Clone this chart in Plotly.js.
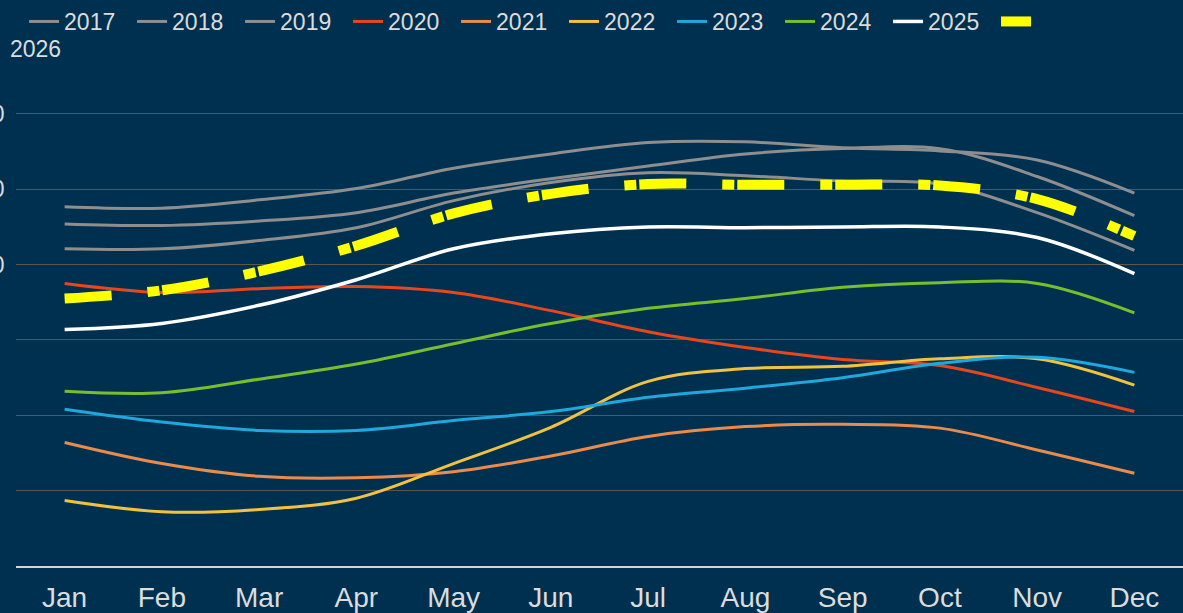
<!DOCTYPE html>
<html>
<head>
<meta charset="utf-8">
<script src="https://cdn.plot.ly/plotly-3.0.1.min.js"></script>
<style>
  html, body { margin: 0; padding: 0; background: #00304f; }
  #chart { width: 1183px; height: 613px; }
</style>
</head>
<body>
<div id="chart"></div>
<script>
// ---- data ----
const months = ['Jan','Feb','Mar','Apr','May','Jun','Jul','Aug','Sep','Oct','Nov','Dec'];
const years = ['2017','2018','2019','2020','2021','2022','2023','2024','2025','2026'];

const v2017 = [1077, 1075, 1086, 1101, 1128, 1147, 1162, 1163, 1155, 1151, 1139, 1095];
const v2018 = [1054, 1052, 1058, 1069, 1095, 1114, 1131, 1147, 1154, 1154, 1117, 1065];
const v2019 = [1021, 1021, 1032, 1049, 1085, 1109, 1122, 1118, 1111, 1107, 1069, 1019];
const v2020 = [975, 963, 968, 971, 963, 939, 911, 890, 874, 866, 837, 805];
const v2021 = [764, 736, 719, 717, 725, 746, 772, 785, 788, 783, 754, 723];
const v2022 = [687, 672, 675, 690, 736, 784, 845, 862, 865, 875, 875, 840];
const v2023 = [808, 791, 780, 780, 793, 805, 824, 836, 850, 869, 877, 857];
const v2024 = [832, 830, 848, 868, 895, 922, 942, 955, 970, 976, 975, 936];
const v2025 = [914, 922, 946, 980, 1021, 1041, 1050, 1049, 1050, 1050, 1036, 988];
const v2026 = [955, 966, 991, 1025, 1068, 1094, 1107, 1106, 1106, 1105, 1087, 1038];

// gridline values; only the three longest labels peek in at the left edge in the reference
const yTickVals = [700, 800, 900, 1000, 1100, 1200];
const yLabelVals = [1000, 1100, 1200];
const yLabelText = ['1,000', '1,100', '1,200'];

// ---- styles ----
const series = [v2017, v2018, v2019, v2020, v2021, v2022, v2023, v2024, v2025, v2026];
const lineColors = ['#8e8e8e', '#8e8e8e', '#8e8e8e', '#e8461c', '#e98b4c', '#f0c240', '#1ea8dc', '#78be2c', '#ffffff', '#ffff00'];
const lineWidths = [3, 3, 3, 3, 3, 3, 3, 3, 3.5, 10];
const lineDash = ['solid','solid','solid','solid','solid','solid','solid','solid','solid','47px,36px,12px,3px'];

const traces = [];
for (let i = 0; i < series.length; i++) {
  const last = (i === series.length - 1);
  traces.push({
    type: 'scatter', mode: 'lines',
    x: months, y: series[i], name: years[i],
    showlegend: !last,
    line: { color: lineColors[i], width: lineWidths[i], dash: lineDash[i], shape: 'spline', smoothing: 1 }
  });
}
// legend symbol for the last year (its label wraps to the next row in the reference)
const li = series.length - 1;
traces.push({
  type: 'scatter', mode: 'lines', x: [null], y: [null], name: ' ',
  showlegend: true, hoverinfo: 'skip',
  line: { color: lineColors[li], width: lineWidths[li] }
});

const txtColor = '#dcdcdc';
const fontFam = 'Liberation Sans, Arial, sans-serif';

const annotations = yLabelVals.map((v, k) => ({
  xref: 'paper', yref: 'y', x: -0.0605, y: v, xanchor: 'left', yanchor: 'middle',
  text: yLabelText[k], showarrow: false,
  font: { family: fontFam, size: 23, color: txtColor }
}));
annotations.push({
  xref: 'paper', yref: 'paper', x: -0.0069, y: 1.112, xanchor: 'left', yanchor: 'middle',
  text: years[li], showarrow: false,
  font: { family: fontFam, size: 23, color: txtColor }
});

const layout = {
  width: 1183, height: 613,
  paper_bgcolor: '#00304f', plot_bgcolor: '#00304f',
  margin: { l: 16, r: 0, t: 100, b: 47, pad: 0 },
  font: { family: fontFam, color: txtColor },
  showlegend: true,
  legend: {
    orientation: 'h', xref: 'paper', yref: 'paper',
    x: 0.0069, y: 1.2167, xanchor: 'left', yanchor: 'top',
    entrywidth: 63, itemwidth: 30, traceorder: 'normal',
    font: { family: fontFam, size: 23, color: txtColor },
    bgcolor: 'rgba(0,0,0,0)', borderwidth: 0
  },
  xaxis: {
    type: 'category', range: [-0.5, 11.5],
    showgrid: false, zeroline: false,
    showline: true, linecolor: '#d6d6d6', linewidth: 2,
    ticks: '', ticklabelstandoff: 5,
    tickfont: { family: fontFam, size: 28, color: txtColor },
    fixedrange: true
  },
  yaxis: {
    range: [600, 1217.2], tickmode: 'array', tickvals: yTickVals,
    showticklabels: false, ticks: '',
    showgrid: true, gridcolor: '#5a5650', gridwidth: 1,
    zeroline: false, showline: false, fixedrange: true
  },
  annotations: annotations
};

Plotly.newPlot('chart', traces, layout, { displayModeBar: false, staticPlot: true });
</script>
</body>
</html>
